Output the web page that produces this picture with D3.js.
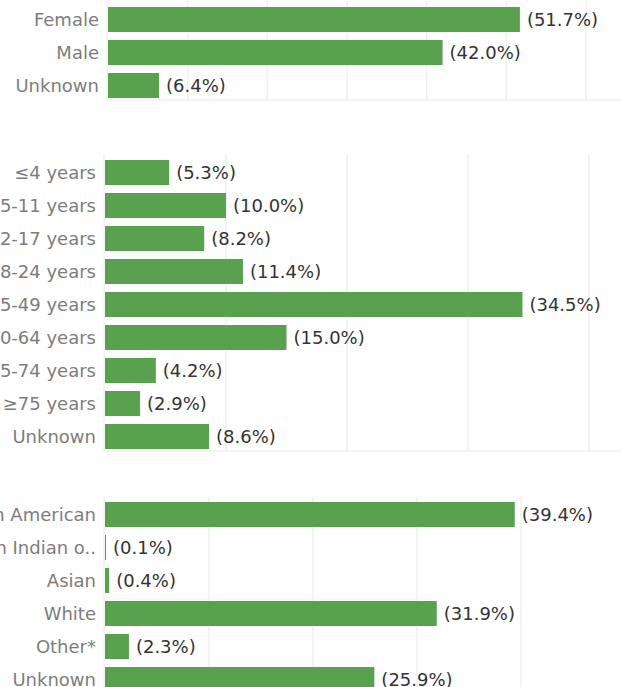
<!DOCTYPE html>
<meta charset="utf-8">
<script src="https://d3js.org/d3.v7.min.js"></script>
<style>
	body{
		margin:0;
		background:#fff;
		font-family: 'DejaVu Sans', sans-serif;
	}
	.cat{ fill:#7d7d7d; font-size:18px; }
	.val{ fill:#333; font-size:18px; }
</style>
<div id="chart"></div>
<script>
	// sex
	var sexCats = ["Female","Male","Unknown"]
	var sexVals = [51.7,42.0,6.4]
	// age groups
	var ageCats = ["≤4 years","5-11 years","12-17 years","18-24 years","25-49 years","50-64 years","65-74 years","≥75 years","Unknown"]
	var ageVals = [5.3,10.0,8.2,11.4,34.5,15.0,4.2,2.9,8.6]
	// race
	var raceCats = ["Black or African American","American Indian o..","Asian","White","Other*","Unknown"]
	var raceVals = [39.4,0.1,0.4,31.9,2.3,25.9]

	var barColor = "#59A14F"
	var gridColor = "#f0f0f0"

	var w = 621
	var h = 687
	var step = 33

	var svg = d3.select("#chart").append("svg").attr("width",w).attr("height",h)

	// left = zero line, top = first row, maxPct / widthPx define the x scale
	drawPanel(sexCats,sexVals,108,3,60,478)
	drawPanel(ageCats,ageVals,105,156,40,484)
	drawPanel(raceCats,raceVals,105,498,40,416)

	function drawPanel(cats,vals,left,top,maxPct,widthPx){
		var g = svg.append("g")
		var xScale = d3.scaleLinear().domain([0,maxPct]).range([left,left+widthPx])
		var yScale = d3.scaleBand().domain(cats)
			.range([top,top+step*cats.length])
			.paddingInner(8/step).paddingOuter(4/step)
		var bottom = top+step*cats.length-2

		// gridlines
		g.selectAll(".grid")
			.data(xScale.ticks(maxPct/10).filter(function(d){return d>0}))
			.enter().append("line")
			.attr("x1",function(d){return xScale(d)}).attr("x2",function(d){return xScale(d)})
			.attr("y1",top-2).attr("y2",bottom)
			.attr("stroke",gridColor).attr("stroke-width",1.5)
		// zero line + bottom line
		g.append("line").attr("x1",xScale(0)-1).attr("x2",xScale(0)-1).attr("y1",top-2).attr("y2",bottom)
			.attr("stroke",gridColor).attr("stroke-width",1.5)
		g.append("line").attr("x1",xScale(0)-1).attr("x2",w).attr("y1",bottom).attr("y2",bottom)
			.attr("stroke",gridColor).attr("stroke-width",1.5)

		g.selectAll(".bar").data(vals).enter().append("rect")
			.attr("x",xScale(0))
			.attr("y",function(d,i){return yScale(cats[i])})
			.attr("width",function(d){return Math.max(1,xScale(d)-xScale(0))})
			.attr("height",yScale.bandwidth())
			.attr("fill",barColor)

		g.selectAll(".val").data(vals).enter().append("text")
			.attr("class","val")
			.attr("x",function(d){return Math.max(xScale(d),xScale(0)+1)+7})
			.attr("y",function(d,i){return yScale(cats[i])+yScale.bandwidth()/2})
			.attr("dy","0.36em")
			.text(function(d){return "("+d.toFixed(1)+"%)"})

		g.selectAll(".cat").data(cats).enter().append("text")
			.attr("class","cat")
			.attr("x",left-9)
			.attr("y",function(d){return yScale(d)+yScale.bandwidth()/2})
			.attr("dy","0.36em")
			.attr("text-anchor","end")
			.text(function(d){return d})
	}
</script>
